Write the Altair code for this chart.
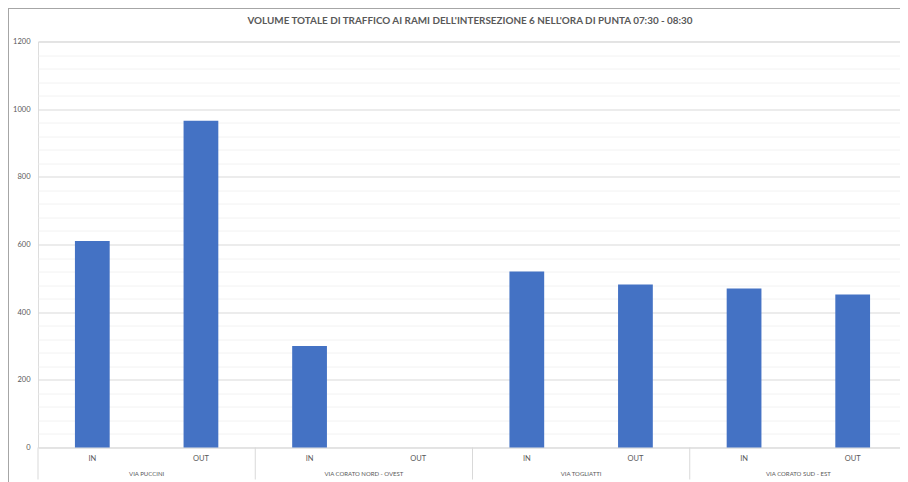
import altair as alt
import pandas as pd

groups = ["Via Puccini", "Via Corato nord - ovest", "Via Togliatti", "Via Corato sud - est"]
directions = ["IN", "OUT"]
volumes = [610, 966, 300, 0, 520, 482, 470, 452]
y_major = [0, 200, 400, 600, 800, 1000, 1200]
y_minor_step = 40
title_text = "Volume totale di traffico ai rami dell'intersezione 6 nell'ora di punta 07:30 - 08:30"

rows = []
for g_i, g in enumerate(groups):
    for d_i, d in enumerate(directions):
        i = g_i * 2 + d_i
        rows.append({"group": g, "dir": d, "volume": volumes[i],
                     "pos": i + 0.5, "x0": i + 0.34, "x1": i + 0.66})
df = pd.DataFrame(rows)
gdf = pd.DataFrame({"group": groups, "center": [2 * i + 1 for i in range(len(groups))]})
bdf = pd.DataFrame({"b": [2 * i for i in range(len(groups) + 1)]})
tdf = pd.DataFrame({"t": [title_text]})

FULL_W = 869          # width the category axis spans in the reference (cut at the page edge)
W, H = 862, 406       # visible plot area
FONT = "Lato"
GRAY = "#595959"

xs = alt.Scale(domain=[0, len(volumes) * W / FULL_W], nice=False, zero=False, padding=0)
ys = alt.Scale(domain=[0, y_major[-1]], nice=False, padding=0)

grid_vals = list(range(0, y_major[-1] + 1, y_minor_step))

bars = alt.Chart(df).mark_bar(color="#4472C4").encode(
    x=alt.X("x0:Q", scale=xs, axis=None),
    x2="x1:Q",
    y=alt.Y("volume:Q", scale=ys, axis=alt.Axis(
        values=grid_vals, grid=True,
        gridColor={"condition": {"test": "datum.value % 200 === 0", "value": "#d9d9d9"}, "value": "#f2f2f2"},
        gridWidth=1,
        labelExpr="datum.value % 200 === 0 ? datum.label : ''",
        domain=False, ticks=False, title=None, labelPadding=8,
        labelFont=FONT, labelFontSize=7.5, labelColor=GRAY, format="d")),
    y2=alt.datum(0),
)

dir_labels = alt.Chart(df).mark_text(font=FONT, fontSize=7.5, color=GRAY, baseline="middle").encode(
    x=alt.X("pos:Q", scale=xs), y=alt.value(417.5), text="dir:N")

grp_labels = alt.Chart(gdf).transform_calculate(up="upper(datum.group)").mark_text(
    font=FONT, fontSize=6, color=GRAY, baseline="middle").encode(
    x=alt.X("center:Q", scale=xs), y=alt.value(432.5), text="up:N")

seps = alt.Chart(bdf).mark_rule(color="#d9d9d9", strokeWidth=1).encode(
    x=alt.X("b:Q", scale=xs), y=alt.value(406), y2=alt.value(438))

title = alt.Chart(tdf).transform_calculate(up="upper(datum.t)").mark_text(
    font=FONT, fontSize=9.9, fontWeight="bold", color=GRAY, baseline="middle").encode(
    x=alt.value(432), y=alt.value(-20.5), text="up:N")

border_left = alt.Chart(tdf).mark_rule(color="#a6a6a6", strokeWidth=1).encode(
    x=alt.value(-29.5), y=alt.value(-33.5), y2=alt.value(H + 40))
border_top = alt.Chart(tdf).mark_rule(color="#a6a6a6", strokeWidth=1).encode(
    y=alt.value(-33), x=alt.value(-30), x2=alt.value(W))

chart = alt.layer(bars, seps, dir_labels, grp_labels, title, border_left, border_top).properties(
    width=W, height=H, autosize="none",
    padding={"left": 30, "top": 33.5, "right": 0, "bottom": 35},
).configure_view(stroke=None).configure(background="white")

chart.save("out.html", embed_options={"renderer": "svg", "actions": False})
